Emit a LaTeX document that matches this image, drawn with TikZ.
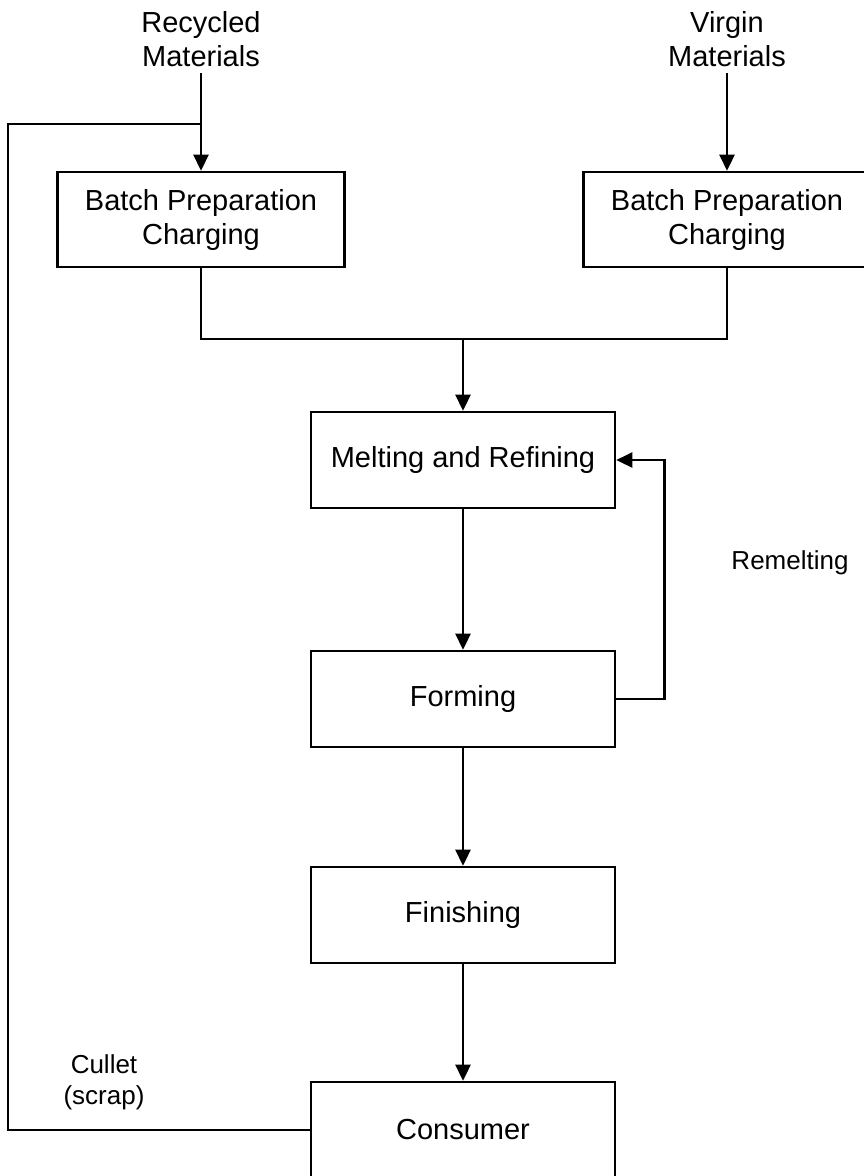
\documentclass[tikz,border=0pt]{standalone}
\usepackage{fontspec}
\setmainfont{Liberation Sans}
\usetikzlibrary{shapes, arrows.meta}

\begin{document}
\begin{tikzpicture}[x=1pt,y=-1pt]
            \tikzstyle{every node}=[font=\fontsize{29}{34}\selectfont, align=center]
            \tikzstyle{stage}=[rectangle, draw, line width=2.6pt, minimum width=304pt, minimum height=96pt, inner sep=0pt]
            \tikzstyle{batch}=[stage, minimum width=287pt, minimum height=95pt]
            \tikzstyle{note}=[font=\fontsize{26}{31}\selectfont]
            \tikzstyle{wire}=[line width=2.6pt]
            \tikzstyle{flow}=[wire, -{Triangle[length=16pt,width=15pt]}]
            \useasboundingbox (0,0) rectangle (863,1176);
            \node[inner sep=6pt] (recycled) at (201,39) {Recycled\\Materials};
            \node[inner sep=6pt] (virgin) at (727,39) {Virgin\\Materials};
            \node[batch] (batchL) at (201,219.5) {Batch Preparation\\Charging};
            \node[batch] (batchR) at (727,219.5) {Batch Preparation\\Charging};
            \node[stage] (melt) at (463,460) {Melting and Refining};
            \node[stage] (forming) at (463,699) {Forming};
            \node[stage] (finish) at (463,915) {Finishing};
            \node[stage] (consumer) at (463,1130) {Consumer};
            \node[note] (remelt) at (790,563) {Remelting};
            \node[note] (cullet) at (104,1082) {Cullet\\(scrap)};
            \coordinate (merge) at (463,339);
            \coordinate (loop) at (8,124);
            \coordinate (join) at (201,124);
            \draw[flow] (recycled) -- (batchL);
            \draw[flow] (virgin) -- (batchR);
            \draw[wire] (batchL.south) |- (merge) -| (batchR.south);
            \draw[flow] (merge) -- (melt);
            \draw[flow] (melt) -- (forming);
            \draw[flow] (forming.east) -- ++(48,0) |- (melt.east);
            \draw[flow] (forming) -- (finish);
            \draw[flow] (finish) -- (consumer);
            \draw[wire] (consumer.west) -| (loop) -- (join);
\end{tikzpicture}
\end{document}
